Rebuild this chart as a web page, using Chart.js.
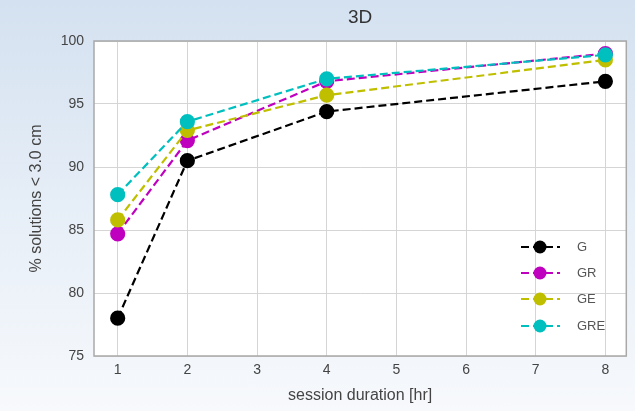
<!DOCTYPE html>
<html>
<head>
<meta charset="utf-8">
<script src="https://cdn.jsdelivr.net/npm/chart.js@4.4.1/dist/chart.umd.min.js"></script>
<style>
  html, body { margin: 0; padding: 0; }
  body {
    width: 635px; height: 411px; overflow: hidden;
    background: linear-gradient(to bottom, #d4e1f0 0%, #e6eef7 50%, #f7f9fc 100%);
  }
  #wrap { position: relative; width: 635px; height: 411px; }
</style>
</head>
<body>
<div id="wrap"><canvas id="chart" width="635" height="411"></canvas></div>
<script>
// Data
const durations = [1, 2, 4, 8];
const seriesNames = ["G", "GR", "GE", "GRE"];
const valuesG = [78.0, 90.5, 94.4, 96.8];
const valuesGR = [84.7, 92.1, 96.8, 99.0];
const valuesGE = [85.8, 92.9, 95.7, 98.5];
const valuesGRE = [87.8, 93.6, 97.0, 98.9];
const xTicks = [1, 2, 3, 4, 5, 6, 7, 8];
const yTicks = [75, 80, 85, 90, 95, 100];
const colors = ["#000000", "#bf00bf", "#bfbf00", "#00bfbf"];

const allValues = [valuesG, valuesGR, valuesGE, valuesGRE];

// later series sit on top, like the original plot
const datasets = seriesNames.map((name, i) => ({
    label: name,
    data: durations.map((d, j) => ({ x: d, y: allValues[i][j] })),
    order: seriesNames.length - 1 - i,
    borderColor: colors[i],
    backgroundColor: colors[i],
    pointBackgroundColor: colors[i],
    pointBorderColor: colors[i],
    pointRadius: 6.5,
    pointHoverRadius: 6.5,
    borderWidth: 2.2,
    borderDash: [8, 4],
    fill: false,
    tension: 0
}));

// title centred over the plot area + frame around it
const framePlugin = {
    id: "frame",
    beforeDraw(chart) {
        const { ctx, chartArea: a } = chart;
        ctx.save();
        ctx.fillStyle = "#ffffff";
        ctx.fillRect(a.left, a.top, a.right - a.left, a.bottom - a.top);
        ctx.restore();
    },
    afterDraw(chart) {
        const { ctx, chartArea: a } = chart;
        ctx.save();
        ctx.strokeStyle = "#a9a9a9";
        ctx.lineWidth = 1.5;
        ctx.strokeRect(a.left, a.top, a.right - a.left, a.bottom - a.top);
        ctx.fillStyle = "#333333";
        ctx.font = "19px 'Liberation Sans', Arial, sans-serif";
        ctx.textAlign = "center";
        ctx.textBaseline = "middle";
        ctx.fillText("3D", (a.left + a.right) / 2, 18);
        ctx.restore();
    }
};

// legend drawn inside the plot, lower right
const legendPlugin = {
    id: "innerLegend",
    afterDatasetsDraw(chart) {
        const { ctx } = chart;
        const rows = [247, 273, 299, 326];
        ctx.save();
        chart.data.datasets.forEach((ds, i) => {
            const y = rows[i];
            ctx.strokeStyle = ds.borderColor;
            ctx.lineWidth = 2.2;
            ctx.setLineDash([8, 4]);
            ctx.beginPath();
            ctx.moveTo(521, y);
            ctx.lineTo(560, y);
            ctx.stroke();
            ctx.setLineDash([]);
            ctx.fillStyle = ds.borderColor;
            ctx.beginPath();
            ctx.arc(540, y, 6.5, 0, Math.PI * 2);
            ctx.fill();
            ctx.fillStyle = "#555555";
            ctx.font = "13px 'Liberation Sans', Arial, sans-serif";
            ctx.textAlign = "left";
            ctx.textBaseline = "middle";
            ctx.fillText(ds.label, 577, y);
        });
        ctx.restore();
    }
};

const tickFont = { family: "'Liberation Sans', Arial, sans-serif", size: 14 };

new Chart(document.getElementById("chart"), {
    type: "line",
    data: { datasets: datasets },
    options: {
        responsive: false,
        animation: false,
        layout: { padding: { top: 41, right: 4, bottom: 0, left: 0 } },
        plugins: {
            legend: { display: false },
            title: { display: false },
            tooltip: { enabled: false }
        },
        scales: {
            x: {
                type: "linear",
                min: 0.66,
                max: 8.3,
                afterBuildTicks: (scale) => { scale.ticks = xTicks.map(v => ({ value: v })); },
                afterFit: (scale) => { scale.height = 55; },
                grid: { color: "#d5d5d5", lineWidth: 1, drawTicks: false },
                border: { display: false },
                ticks: { color: "#444444", font: tickFont, padding: 6 },
                title: {
                    display: true,
                    text: "session duration [hr]",
                    color: "#444444",
                    font: { family: "'Liberation Sans', Arial, sans-serif", size: 16 },
                    padding: { top: 0, bottom: 6 }
                }
            },
            y: {
                min: 75,
                max: 100,
                afterBuildTicks: (scale) => { scale.ticks = yTicks.map(v => ({ value: v })); },
                afterFit: (scale) => { scale.width = 94; },
                grid: { color: "#d5d5d5", lineWidth: 1, drawTicks: false },
                border: { display: false },
                ticks: { color: "#444444", font: tickFont, padding: 10 },
                title: {
                    display: true,
                    text: "% solutions < 3.0 cm",
                    color: "#444444",
                    font: { family: "'Liberation Sans', Arial, sans-serif", size: 16 },
                    padding: { top: 27, bottom: 0 }
                }
            }
        }
    },
    plugins: [framePlugin, legendPlugin]
});
</script>
</body>
</html>
